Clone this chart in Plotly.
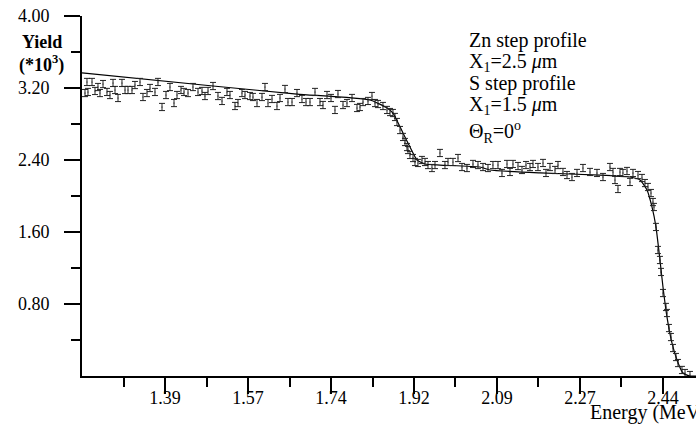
import plotly.graph_objects as go

# ---- measured data (energy in MeV, yield in 10^3 counts) ----
energy = [1.2213, 1.2255, 1.2276, 1.2361, 1.2424, 1.2487, 1.2529, 1.2593, 1.2677, 1.2740,
          1.2804, 1.2846, 1.2909, 1.2993, 1.3057, 1.3120, 1.3204, 1.3267, 1.3373, 1.3436,
          1.3520, 1.3584, 1.3689, 1.3752, 1.3837, 1.3921, 1.4005, 1.4090, 1.4153, 1.4237,
          1.4301, 1.4385, 1.4490, 1.4596, 1.4680, 1.4743, 1.4807, 1.4912, 1.5017, 1.5102,
          1.5207, 1.5270, 1.5376, 1.5439, 1.5523, 1.5587, 1.5692, 1.5755, 1.5840, 1.5945,
          1.6008, 1.6072, 1.6156, 1.6261, 1.6325, 1.6430, 1.6493, 1.6578, 1.6683, 1.6788,
          1.6873, 1.6957, 1.7063, 1.7168, 1.7231, 1.7316, 1.7400, 1.7484, 1.7547, 1.7653,
          1.7737, 1.7843, 1.7948, 1.8011, 1.8075, 1.8180, 1.8264, 1.8328, 1.8391, 1.8496,
          1.8581, 1.8644, 1.8707, 1.8749, 1.8791, 1.8855, 1.8918, 1.8960, 1.9002, 1.9023,
          1.9065, 1.9129, 1.9171, 1.9234, 1.9318, 1.9382, 1.9445, 1.9529, 1.9593, 1.9698,
          1.9803, 1.9867, 1.9972, 2.0078, 2.0162, 2.0267, 2.0394, 2.0499, 2.0605, 2.0710,
          2.0815, 2.0921, 2.1005, 2.1111, 2.1174, 2.1237, 2.1343, 2.1427, 2.1511, 2.1596,
          2.1659, 2.1764, 2.1870, 2.1933, 2.2017, 2.2123, 2.2186, 2.2291, 2.2376, 2.2481,
          2.2587, 2.2713, 2.2861, 2.3008, 2.3135, 2.3282, 2.3346, 2.3388, 2.3451, 2.3493,
          2.3556, 2.3641, 2.3704, 2.3767, 2.3873, 2.3957, 2.4020, 2.4083, 2.4147, 2.4189,
          2.4210, 2.4252, 2.4294, 2.4336, 2.4358, 2.4400, 2.4463, 2.4484, 2.4526, 2.4568,
          2.4611, 2.4674, 2.4716, 2.4800, 2.4864, 2.4969]
yield_k = [3.144, 3.267, 3.156, 3.267, 3.167, 3.211, 3.144, 3.244, 3.156, 3.122,
           3.256, 3.178, 3.089, 3.256, 3.178, 3.178, 3.178, 3.233, 3.267, 3.100,
           3.144, 3.200, 3.156, 3.267, 2.989, 3.122, 3.211, 3.033, 3.122, 3.178,
           3.156, 3.144, 3.211, 3.156, 3.167, 3.111, 3.167, 3.222, 3.111, 3.056,
           3.156, 3.122, 3.000, 3.033, 3.144, 3.122, 3.111, 3.100, 3.033, 3.100,
           3.211, 3.033, 3.078, 3.000, 3.089, 3.189, 3.044, 3.044, 3.144, 3.078,
           3.044, 3.044, 3.156, 3.044, 3.011, 3.122, 3.089, 2.956, 3.133, 3.011,
           3.033, 3.089, 2.978, 2.989, 3.044, 3.056, 3.111, 3.033, 3.022, 3.000,
           2.956, 2.933, 2.922, 2.878, 2.822, 2.733, 2.656, 2.600, 2.544, 2.511,
           2.456, 2.422, 2.378, 2.367, 2.400, 2.378, 2.344, 2.311, 2.344, 2.478,
           2.344, 2.378, 2.378, 2.422, 2.322, 2.311, 2.356, 2.344, 2.322, 2.311,
           2.344, 2.344, 2.256, 2.356, 2.267, 2.356, 2.333, 2.289, 2.344, 2.322,
           2.356, 2.322, 2.367, 2.256, 2.322, 2.289, 2.344, 2.267, 2.233, 2.211,
           2.256, 2.311, 2.267, 2.256, 2.211, 2.322, 2.267, 2.178, 2.078, 2.267,
           2.256, 2.278, 2.156, 2.256, 2.233, 2.200, 2.144, 2.100, 2.033, 1.933,
           1.878, 1.656, 1.400, 1.289, 1.156, 0.922, 0.767, 0.700, 0.533, 0.433,
           0.311, 0.211, 0.144, 0.067, 0.033, 0.011]

# ---- fitted step profile ----
fit_energy = [1.2150, 1.4912, 1.6683, 1.8222, 1.8581, 1.8707, 1.8918, 1.9065, 1.9213, 1.9382,
              1.9698, 2.0541, 2.0752, 2.1806, 2.3072, 2.3704, 2.3915, 2.4063, 2.4168, 2.4252,
              2.4336, 2.4400, 2.4484, 2.4589, 2.4695, 2.4821, 2.4969, 2.5200]
fit_yield = [3.367, 3.222, 3.133, 3.067, 2.978, 2.922, 2.700, 2.544, 2.400, 2.356,
             2.344, 2.322, 2.289, 2.256, 2.233, 2.211, 2.178, 2.067, 1.878, 1.656,
             1.289, 0.989, 0.656, 0.367, 0.178, 0.033, 0.000, 0.000]

x_tickvals = [1.39, 1.565, 1.74, 1.915, 2.09, 2.265, 2.44]
x_ticktext = ["1.39", "1.57", "1.74", "1.92", "2.09", "2.27", "2.44"]
x_minor = [1.3025, 1.4775, 1.6525, 1.8275, 2.0025, 2.1775, 2.3525]
y_tickvals = [0.8, 1.6, 2.4, 3.2, 4.0]
y_ticktext = ["0.80", "1.60", "2.40", "3.20", "4.00"]
y_minor = [0.4, 1.2, 2.0, 2.8, 3.6]

FONT = "Liberation Serif, Times New Roman, serif"

fig = go.Figure()
fig.add_trace(go.Scatter(
    x=fit_energy, y=fit_yield, mode="lines",
    line=dict(color="black", width=1.2, shape="spline", smoothing=0.5),
    hoverinfo="skip", showlegend=False))
fig.add_trace(go.Scatter(
    x=energy, y=yield_k, mode="markers",
    marker=dict(size=1, color="black"),
    error_y=dict(type="constant", value=0.04, color="#222", thickness=1, width=3),
    showlegend=False))

fig.update_layout(
    width=696, height=424,
    margin=dict(l=82, r=0, t=16, b=48, autoexpand=False),
    paper_bgcolor="white", plot_bgcolor="white",
    font=dict(family=FONT, size=18, color="black"),
    xaxis=dict(range=[1.2150, 2.5096], showgrid=False, zeroline=False, automargin=False,
               showline=True, linecolor="black", linewidth=2,
               ticks="outside", ticklen=16, tickwidth=2, tickcolor="black",
               ticklabelstandoff=-12,
               tickvals=x_tickvals, ticktext=x_ticktext,
               minor=dict(tickvals=x_minor, ticks="outside", ticklen=9,
                          tickwidth=2, tickcolor="black", showgrid=False)),
    yaxis=dict(range=[0, 4.0], showgrid=False, zeroline=False, automargin=False,
               showline=True, linecolor="black", linewidth=2,
               ticks="outside", ticklen=16, tickwidth=2, tickcolor="black",
               ticklabelstandoff=11,
               tickvals=y_tickvals, ticktext=y_ticktext,
               minor=dict(tickvals=y_minor, ticks="outside", ticklen=9,
                          tickwidth=2, tickcolor="black", showgrid=False)),
)

def px_x(p):
    return (p - 82) / 614.0

def px_y(p):
    return (376 - p) / 360.0

ann = [
    ("<b>Yield</b>", 20, 42, 18),
    ("<b>(*10<sup>3</sup>)</b>", 17, 64, 18),
    ("Zn step profile", 467, 41, 20),
    ("X<sub>1</sub>=2.5 <i>μ</i>m", 467, 63, 20),
    ("S step profile", 467, 83, 20),
    ("X<sub>1</sub>=1.5 <i>μ</i>m", 467, 105, 20),
    ("Θ<sub>R</sub>=0<sup>o</sup>", 467, 132, 20),
    ("Energy (MeV)", 588, 412, 20),
]
for text, ax, ay, fs in ann:
    fig.add_annotation(text=text, xref="paper", yref="paper",
                       x=px_x(ax), y=px_y(ay), xanchor="left", yanchor="middle",
                       showarrow=False, font=dict(family=FONT, size=fs, color="black"))

fig.write_html("out.html", config={"displayModeBar": False},
               post_script="document.body.style.margin='0';document.body.style.overflow='hidden';")
